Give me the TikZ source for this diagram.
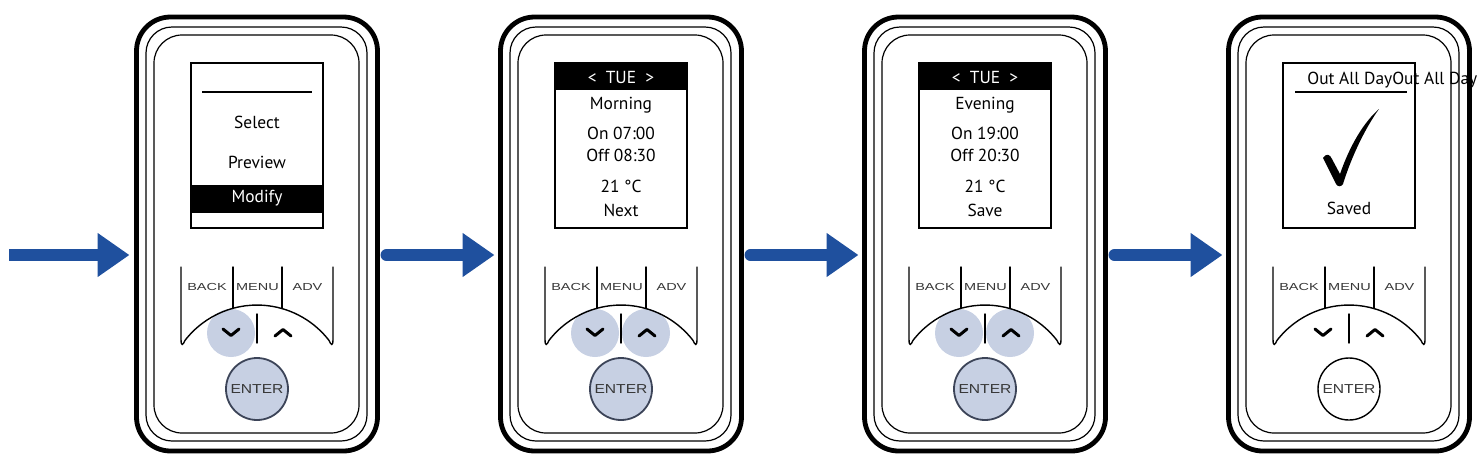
\documentclass[tikz,border=0pt]{standalone}
\usepackage{fontspec}
\setmainfont{PT Sans}
\newfontfamily\keyfont{Liberation Sans}
\usetikzlibrary{arrows.meta}

\definecolor{arrowblue}{RGB}{31,80,158}
\definecolor{keylit}{RGB}{199,208,227}
\definecolor{keyring}{RGB}{60,68,88}
\definecolor{keytext}{RGB}{55,55,55}

\tikzset{
  casing/.style={draw, rectangle, rounded corners=17pt, line width=2.4pt,
    minimum width=120.5pt, minimum height=217pt, inner sep=0pt, outer sep=0pt},
  bezel/.style={line width=0.6pt},
  lcd/.style={line width=1pt},
  lcdtext/.style={inner sep=0pt, font=\fontsize{8.7}{10}\selectfont},
  keyline/.style={line width=0.7pt, line cap=round},
  keylabel/.style={inner sep=0pt, text=keytext, font=\keyfont\fontsize{5.1}{6}\selectfont},
  chevron/.style={line width=1.5pt, line cap=round, line join=round},
  enterkey/.style={circle, minimum size=31pt, inner sep=0pt, line width=0.9pt,
    text=keytext, font=\keyfont\fontsize{6.5}{7}\selectfont},
  litkey/.style={fill=keylit, draw=keyring},
  plainkey/.style={fill=white, draw=black, line width=0.7pt},
  flow/.style={line width=6pt, draw=arrowblue, line cap=round,
    -{Triangle[length=16pt,width=21pt]}}
}

% frame, bezel lines and screen border of one handset
\newcommand{\handset}[1]{%
  \node[casing] (#1) at (121,217) {};
  \draw[bezel, rounded corners=13pt] (10,10) rectangle (231,424);
  \draw[bezel, rounded corners=14pt] (18,18) rectangle (223,416);
  \draw[lcd] (55,46) rectangle (187,211);
}

% #1 prefix for names, #2 lit arrow keys (0, 1 or 2), #3 style of ENTER
\newcommand{\keypad}[3]{%
  \ifnum#2>0 \fill[keylit] (95,316) circle (24);\fi
  \ifnum#2>1 \fill[keylit] (146,316) circle (24);\fi
  \draw[keyline] (45,250) -- (45,322) .. controls (45,330) and (47,328) .. (49,323.4)
    arc[start angle=217.7, end angle=322.3, radius=91]
    .. controls (195,328) and (197,330) .. (197,322) -- (197,250);
  \draw[keyline] (97,250) -- (97,291.2);
  \draw[keyline] (146,250) -- (146,291.5);
  \draw[keyline] (121,297) -- (121,326);
  \node[keylabel] (#1back) at (71,270) {\scalebox{1.42}[1]{BACK}};
  \node[keylabel] (#1menu) at (121.5,270) {\scalebox{1.42}[1]{MENU}};
  \node[keylabel] (#1adv) at (171.5,270) {\scalebox{1.42}[1]{ADV}};
  \draw[chevron] (87,312) -- (95,318.5) -- (103,312);
  \draw[chevron] (139,319) -- (147,312.5) -- (155,319);
  \node[enterkey, #3] (#1enter) at (121,372) {\scalebox{1.2}[1]{ENTER}};
}

\begin{document}
\begin{tikzpicture}[x=0.5pt, y=-0.5pt]
\useasboundingbox (0,0) rectangle (1484,462);

% menu
\begin{scope}[shift={(136,17)}]
\handset{dev1}
\draw[line width=0.8pt] (66,75) -- (176,75);
\node[lcdtext] (sel) at (121,105) {Select};
\node[lcdtext] (prev) at (121,145) {Preview};
\fill (55,168) rectangle (187,196);
\node[lcdtext, text=white] (mod) at (121,181) {Modify};
\keypad{a}{1}{litkey}
\end{scope}

% morning
\begin{scope}[shift={(500,17)}]
\handset{dev2}
\fill (55,46) rectangle (187,73);
\node[lcdtext, text=white] (daym) at (121,60) {<~~TUE~~>};
\node[lcdtext] (morn) at (121,88) {Morning};
\node[lcdtext] (onm) at (121,116) {On 07:00};
\node[lcdtext] (offm) at (121,138) {Off 08:30};
\node[lcdtext] (tempm) at (121,169) {21 °C};
\node[lcdtext] (next) at (121,193) {Next};
\keypad{b}{2}{litkey}
\end{scope}

% evening
\begin{scope}[shift={(864,17)}]
\handset{dev3}
\fill (55,46) rectangle (187,73);
\node[lcdtext, text=white] (daye) at (121,60) {<~~TUE~~>};
\node[lcdtext] (eve) at (121,88) {Evening};
\node[lcdtext] (one) at (121,116) {On 19:00};
\node[lcdtext] (offe) at (121,138) {Off 20:30};
\node[lcdtext] (tempe) at (121,169) {21 °C};
\node[lcdtext] (save) at (121,193) {Save};
\keypad{c}{2}{litkey}
\end{scope}

% saved
\begin{scope}[shift={(1228,17)}]
\handset{dev4}
\node[lcdtext, anchor=west] (oad) at (79,63) {Out All DayOut All Day};
\draw[line width=0.8pt] (67,75) -- (179,75);
\fill (95,141) .. controls (98,136) and (102,137) .. (104,142)
  -- (112,157) .. controls (122,128) and (136,105) .. (151,92)
  .. controls (138,110) and (124,138) .. (115,167)
  .. controls (113,170) and (110,170) .. (108,167) -- cycle;
\node[lcdtext] (saved) at (121,191) {Saved};
\keypad{d}{0}{plainkey}
\end{scope}

\coordinate (entry) at (9,255);
\draw[flow, line cap=butt] (entry) -- ([shift={(-7,21)}]dev1.west);
\draw[flow] ([shift={(9,21)}]dev1.east) -- ([shift={(-6,21)}]dev2.west);
\draw[flow] ([shift={(9,21)}]dev2.east) -- ([shift={(-6,21)}]dev3.west);
\draw[flow] ([shift={(9,21)}]dev3.east) -- ([shift={(-6,21)}]dev4.west);

\end{tikzpicture}
\end{document}
